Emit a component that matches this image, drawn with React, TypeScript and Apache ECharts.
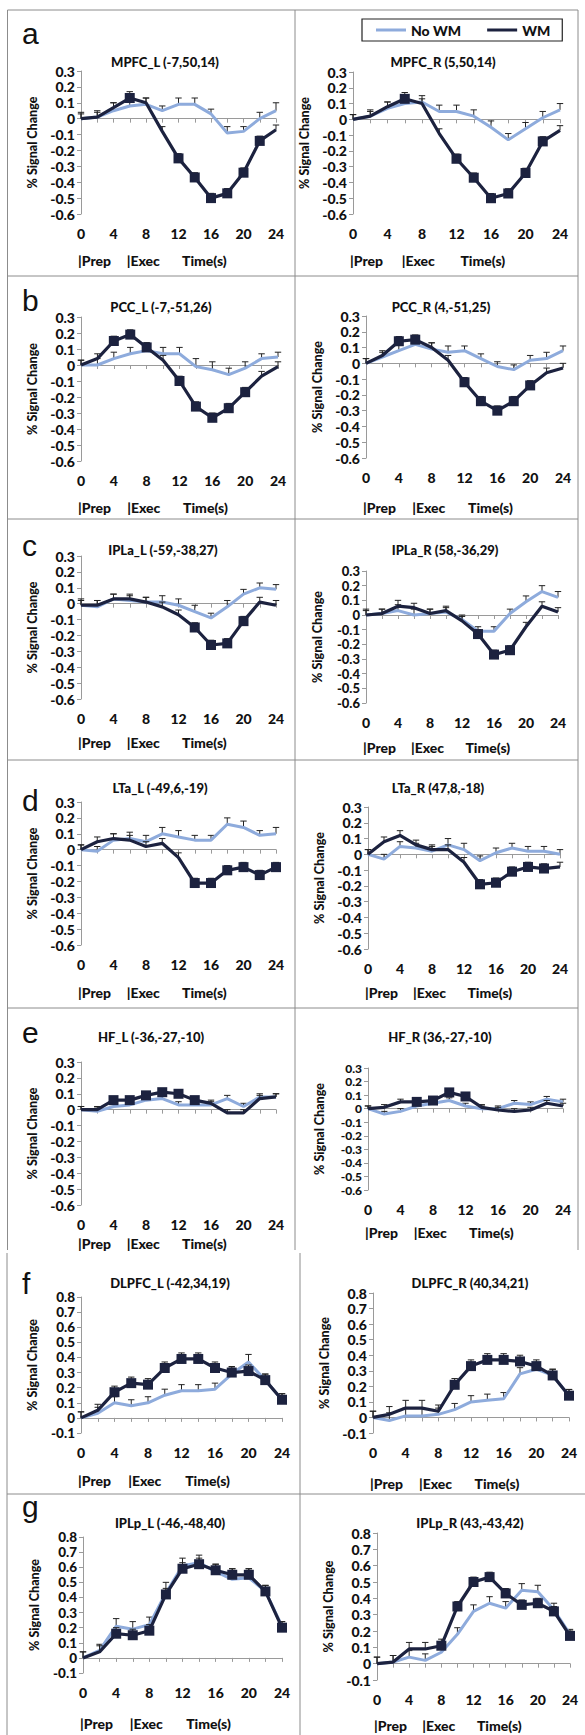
import React, { useEffect, useRef } from "react";
import * as echarts from "echarts";

// ---------- data ----------
const TIMES = [0, 2, 4, 6, 8, 10, 12, 14, 16, 18, 20, 22, 24];
const X_TICK_LABELS = [0, 4, 8, 12, 16, 20, 24];
const SERIES_NAMES = ["No WM", "WM"];
const LETTERS = ["a", "b", "c", "d", "e", "f", "g"];
const RANGE_DMN = [-0.6, 0.3];
const RANGE_TPN = [-0.1, 0.8];

// a: MPFC
const MPFC_L_NOWM = [0.0, 0.01, 0.05, 0.08, 0.09, 0.05, 0.09, 0.09, 0.03, -0.09, -0.08, 0.0, 0.05];
const MPFC_L_NOWM_ERR = [0.04, 0.04, 0.05, 0.05, 0.04, 0.03, 0.04, 0.04, 0.03, 0.04, 0.03, 0.04, 0.05];
const MPFC_L_WM = [0.0, 0.01, 0.07, 0.13, 0.1, -0.08, -0.25, -0.37, -0.5, -0.47, -0.34, -0.14, -0.07];
const MPFC_L_WM_ERR = [0.03, 0.03, 0.03, 0.04, 0.03, 0.03, 0.03, 0.03, 0.03, 0.03, 0.03, 0.03, 0.03];
const MPFC_L_MARKS = [6, 12, 14, 16, 18, 20, 22];

const MPFC_R_NOWM = [0.0, 0.02, 0.07, 0.1, 0.11, 0.05, 0.05, 0.02, -0.05, -0.13, -0.06, 0.01, 0.06];
const MPFC_R_NOWM_ERR = [0.03, 0.04, 0.04, 0.05, 0.04, 0.04, 0.04, 0.04, 0.04, 0.04, 0.04, 0.04, 0.04];
const MPFC_R_WM = [0.0, 0.02, 0.08, 0.13, 0.1, -0.09, -0.25, -0.37, -0.5, -0.47, -0.34, -0.14, -0.07];
const MPFC_R_WM_ERR = [0.03, 0.03, 0.03, 0.04, 0.03, 0.03, 0.03, 0.03, 0.03, 0.03, 0.03, 0.03, 0.03];
const MPFC_R_MARKS = [6, 12, 14, 16, 18, 20, 22];

// b: PCC
const PCC_L_NOWM = [0.0, 0.0, 0.04, 0.07, 0.09, 0.07, 0.07, -0.01, -0.03, -0.06, -0.02, 0.04, 0.05];
const PCC_L_NOWM_ERR = [0.03, 0.04, 0.04, 0.04, 0.04, 0.04, 0.04, 0.05, 0.05, 0.04, 0.04, 0.03, 0.03];
const PCC_L_WM = [0.0, 0.04, 0.15, 0.19, 0.11, 0.03, -0.1, -0.26, -0.33, -0.27, -0.17, -0.07, -0.01];
const PCC_L_WM_ERR = [0.03, 0.03, 0.03, 0.03, 0.03, 0.03, 0.03, 0.03, 0.03, 0.03, 0.03, 0.03, 0.03];
const PCC_L_MARKS = [4, 6, 8, 12, 14, 16, 18, 20];

const PCC_R_NOWM = [0.0, 0.04, 0.08, 0.12, 0.09, 0.07, 0.08, 0.03, -0.02, -0.04, 0.02, 0.03, 0.08];
const PCC_R_NOWM_ERR = [0.03, 0.03, 0.04, 0.04, 0.04, 0.04, 0.03, 0.03, 0.03, 0.03, 0.03, 0.04, 0.03];
const PCC_R_WM = [0.0, 0.05, 0.14, 0.15, 0.1, 0.02, -0.12, -0.24, -0.3, -0.24, -0.14, -0.06, -0.03];
const PCC_R_WM_ERR = [0.03, 0.03, 0.03, 0.03, 0.03, 0.03, 0.03, 0.03, 0.03, 0.03, 0.03, 0.03, 0.03];
const PCC_R_MARKS = [4, 6, 12, 14, 16, 18, 20];

// c: IPLa
const IPLA_L_NOWM = [-0.01, -0.02, 0.03, 0.02, 0.01, 0.01, -0.01, -0.05, -0.09, -0.02, 0.06, 0.1, 0.09];
const IPLA_L_NOWM_ERR = [0.04, 0.04, 0.03, 0.03, 0.03, 0.04, 0.04, 0.04, 0.03, 0.04, 0.03, 0.03, 0.03];
const IPLA_L_WM = [-0.01, -0.01, 0.03, 0.03, 0.01, -0.02, -0.07, -0.15, -0.26, -0.25, -0.11, 0.01, -0.01];
const IPLA_L_WM_ERR = [0.03, 0.03, 0.03, 0.03, 0.03, 0.03, 0.03, 0.03, 0.03, 0.03, 0.03, 0.03, 0.03];
const IPLA_L_MARKS = [14, 16, 18, 20];

const IPLA_R_NOWM = [0.0, 0.01, 0.03, 0.0, 0.01, 0.02, -0.03, -0.11, -0.11, 0.01, 0.09, 0.16, 0.12];
const IPLA_R_NOWM_ERR = [0.04, 0.03, 0.04, 0.04, 0.03, 0.03, 0.03, 0.03, 0.03, 0.03, 0.04, 0.04, 0.04];
const IPLA_R_WM = [0.0, 0.01, 0.06, 0.05, 0.01, 0.03, -0.04, -0.13, -0.27, -0.24, -0.08, 0.06, 0.02];
const IPLA_R_WM_ERR = [0.03, 0.03, 0.04, 0.03, 0.03, 0.03, 0.03, 0.03, 0.03, 0.03, 0.03, 0.03, 0.03];
const IPLA_R_MARKS = [14, 16, 18];

// d: LTa
const LTA_L_NOWM = [0.0, -0.01, 0.06, 0.07, 0.05, 0.1, 0.08, 0.06, 0.06, 0.16, 0.14, 0.09, 0.1];
const LTA_L_NOWM_ERR = [0.03, 0.03, 0.04, 0.04, 0.04, 0.04, 0.04, 0.03, 0.03, 0.04, 0.04, 0.03, 0.04];
const LTA_L_WM = [0.0, 0.05, 0.07, 0.06, 0.02, 0.04, -0.05, -0.21, -0.21, -0.13, -0.11, -0.16, -0.11];
const LTA_L_WM_ERR = [0.03, 0.03, 0.03, 0.03, 0.03, 0.03, 0.03, 0.03, 0.03, 0.03, 0.03, 0.03, 0.03];
const LTA_L_MARKS = [14, 16, 18, 20, 22, 24];

const LTA_R_NOWM = [0.0, -0.03, 0.05, 0.04, 0.02, 0.06, 0.03, -0.04, 0.01, 0.04, 0.02, 0.02, 0.0];
const LTA_R_NOWM_ERR = [0.03, 0.03, 0.03, 0.03, 0.03, 0.04, 0.04, 0.03, 0.03, 0.03, 0.03, 0.03, 0.03];
const LTA_R_WM = [0.0, 0.08, 0.12, 0.06, 0.03, 0.03, -0.05, -0.19, -0.18, -0.11, -0.08, -0.09, -0.08];
const LTA_R_WM_ERR = [0.03, 0.03, 0.03, 0.03, 0.03, 0.03, 0.03, 0.03, 0.03, 0.03, 0.03, 0.03, 0.03];
const LTA_R_MARKS = [14, 16, 18, 20, 22];

// e: HF
const HF_L_NOWM = [0.0, -0.01, 0.02, 0.03, 0.06, 0.07, 0.03, 0.03, 0.03, 0.07, 0.02, 0.08, 0.08];
const HF_L_NOWM_ERR = [0.02, 0.02, 0.02, 0.02, 0.02, 0.02, 0.02, 0.02, 0.02, 0.02, 0.02, 0.02, 0.02];
const HF_L_WM = [0.0, 0.0, 0.06, 0.06, 0.09, 0.11, 0.1, 0.06, 0.04, -0.02, -0.02, 0.07, 0.08];
const HF_L_WM_ERR = [0.02, 0.02, 0.02, 0.02, 0.02, 0.02, 0.02, 0.02, 0.02, 0.02, 0.02, 0.02, 0.02];
const HF_L_MARKS = [4, 6, 8, 10, 12, 14];

const HF_R_NOWM = [0.0, -0.04, -0.02, 0.02, 0.04, 0.06, 0.02, 0.0, 0.0, 0.04, 0.03, 0.07, 0.05];
const HF_R_NOWM_ERR = [0.02, 0.02, 0.02, 0.02, 0.02, 0.02, 0.02, 0.02, 0.02, 0.02, 0.02, 0.02, 0.02];
const HF_R_WM = [0.0, 0.01, 0.05, 0.05, 0.06, 0.12, 0.09, 0.01, -0.01, -0.02, -0.01, 0.04, 0.02];
const HF_R_WM_ERR = [0.02, 0.02, 0.02, 0.02, 0.02, 0.02, 0.02, 0.02, 0.02, 0.02, 0.02, 0.02, 0.02];
const HF_R_MARKS = [6, 8, 10, 12];

// f: DLPFC
const DLPFC_L_NOWM = [0.0, 0.03, 0.1, 0.08, 0.1, 0.15, 0.18, 0.18, 0.19, 0.29, 0.37, 0.25, 0.12];
const DLPFC_L_NOWM_ERR = [0.04, 0.04, 0.04, 0.04, 0.04, 0.04, 0.04, 0.04, 0.04, 0.04, 0.05, 0.04, 0.04];
const DLPFC_L_WM = [0.0, 0.05, 0.17, 0.23, 0.22, 0.33, 0.39, 0.39, 0.33, 0.3, 0.31, 0.25, 0.12];
const DLPFC_L_WM_ERR = [0.04, 0.04, 0.04, 0.04, 0.04, 0.04, 0.04, 0.04, 0.04, 0.04, 0.04, 0.04, 0.04];
const DLPFC_L_MARKS = [4, 6, 8, 10, 12, 14, 16, 18, 20, 22, 24];

const DLPFC_R_NOWM = [0.0, -0.02, 0.01, 0.01, 0.02, 0.05, 0.1, 0.11, 0.12, 0.28, 0.31, 0.27, 0.14];
const DLPFC_R_NOWM_ERR = [0.04, 0.05, 0.05, 0.05, 0.04, 0.04, 0.04, 0.04, 0.04, 0.04, 0.04, 0.04, 0.04];
const DLPFC_R_WM = [0.0, 0.02, 0.06, 0.06, 0.04, 0.21, 0.33, 0.37, 0.37, 0.36, 0.33, 0.27, 0.14];
const DLPFC_R_WM_ERR = [0.04, 0.05, 0.05, 0.05, 0.04, 0.04, 0.04, 0.04, 0.04, 0.04, 0.04, 0.04, 0.04];
const DLPFC_R_MARKS = [10, 12, 14, 16, 18, 20, 22, 24];

// g: IPLp
const IPLP_L_NOWM = [0.0, 0.05, 0.21, 0.19, 0.22, 0.43, 0.61, 0.63, 0.57, 0.52, 0.53, 0.44, 0.21];
const IPLP_L_NOWM_ERR = [0.04, 0.04, 0.05, 0.05, 0.05, 0.07, 0.05, 0.05, 0.05, 0.07, 0.06, 0.04, 0.03];
const IPLP_L_WM = [0.0, 0.04, 0.16, 0.15, 0.18, 0.42, 0.59, 0.62, 0.58, 0.55, 0.55, 0.44, 0.2];
const IPLP_L_WM_ERR = [0.04, 0.04, 0.04, 0.04, 0.04, 0.04, 0.04, 0.04, 0.04, 0.04, 0.04, 0.04, 0.04];
const IPLP_L_MARKS = [4, 6, 8, 10, 12, 14, 16, 18, 20, 22, 24];

const IPLP_R_NOWM = [0.0, 0.01, 0.04, 0.02, 0.07, 0.18, 0.32, 0.37, 0.34, 0.45, 0.44, 0.33, 0.18];
const IPLP_R_NOWM_ERR = [0.04, 0.04, 0.04, 0.04, 0.04, 0.04, 0.04, 0.04, 0.04, 0.04, 0.04, 0.04, 0.03];
const IPLP_R_WM = [0.0, 0.01, 0.09, 0.09, 0.11, 0.35, 0.5, 0.53, 0.43, 0.36, 0.37, 0.32, 0.17];
const IPLP_R_WM_ERR = [0.04, 0.04, 0.04, 0.04, 0.04, 0.03, 0.03, 0.03, 0.03, 0.03, 0.03, 0.03, 0.03];
const IPLP_R_MARKS = [8, 10, 12, 14, 16, 18, 20, 22, 24];

const PANELS = [
  { title: "MPFC_L (-7,50,14)", noWM: MPFC_L_NOWM, noWMErr: MPFC_L_NOWM_ERR, wm: MPFC_L_WM, wmErr: MPFC_L_WM_ERR, marks: MPFC_L_MARKS, range: RANGE_DMN },
  { title: "MPFC_R (5,50,14)", noWM: MPFC_R_NOWM, noWMErr: MPFC_R_NOWM_ERR, wm: MPFC_R_WM, wmErr: MPFC_R_WM_ERR, marks: MPFC_R_MARKS, range: RANGE_DMN },
  { title: "PCC_L (-7,-51,26)", noWM: PCC_L_NOWM, noWMErr: PCC_L_NOWM_ERR, wm: PCC_L_WM, wmErr: PCC_L_WM_ERR, marks: PCC_L_MARKS, range: RANGE_DMN },
  { title: "PCC_R (4,-51,25)", noWM: PCC_R_NOWM, noWMErr: PCC_R_NOWM_ERR, wm: PCC_R_WM, wmErr: PCC_R_WM_ERR, marks: PCC_R_MARKS, range: RANGE_DMN },
  { title: "IPLa_L (-59,-38,27)", noWM: IPLA_L_NOWM, noWMErr: IPLA_L_NOWM_ERR, wm: IPLA_L_WM, wmErr: IPLA_L_WM_ERR, marks: IPLA_L_MARKS, range: RANGE_DMN },
  { title: "IPLa_R (58,-36,29)", noWM: IPLA_R_NOWM, noWMErr: IPLA_R_NOWM_ERR, wm: IPLA_R_WM, wmErr: IPLA_R_WM_ERR, marks: IPLA_R_MARKS, range: RANGE_DMN },
  { title: "LTa_L (-49,6,-19)", noWM: LTA_L_NOWM, noWMErr: LTA_L_NOWM_ERR, wm: LTA_L_WM, wmErr: LTA_L_WM_ERR, marks: LTA_L_MARKS, range: RANGE_DMN },
  { title: "LTa_R (47,8,-18)", noWM: LTA_R_NOWM, noWMErr: LTA_R_NOWM_ERR, wm: LTA_R_WM, wmErr: LTA_R_WM_ERR, marks: LTA_R_MARKS, range: RANGE_DMN },
  { title: "HF_L (-36,-27,-10)", noWM: HF_L_NOWM, noWMErr: HF_L_NOWM_ERR, wm: HF_L_WM, wmErr: HF_L_WM_ERR, marks: HF_L_MARKS, range: RANGE_DMN },
  { title: "HF_R (36,-27,-10)", noWM: HF_R_NOWM, noWMErr: HF_R_NOWM_ERR, wm: HF_R_WM, wmErr: HF_R_WM_ERR, marks: HF_R_MARKS, range: RANGE_DMN },
  { title: "DLPFC_L (-42,34,19)", noWM: DLPFC_L_NOWM, noWMErr: DLPFC_L_NOWM_ERR, wm: DLPFC_L_WM, wmErr: DLPFC_L_WM_ERR, marks: DLPFC_L_MARKS, range: RANGE_TPN },
  { title: "DLPFC_R (40,34,21)", noWM: DLPFC_R_NOWM, noWMErr: DLPFC_R_NOWM_ERR, wm: DLPFC_R_WM, wmErr: DLPFC_R_WM_ERR, marks: DLPFC_R_MARKS, range: RANGE_TPN },
  { title: "IPLp_L (-46,-48,40)", noWM: IPLP_L_NOWM, noWMErr: IPLP_L_NOWM_ERR, wm: IPLP_L_WM, wmErr: IPLP_L_WM_ERR, marks: IPLP_L_MARKS, range: RANGE_TPN },
  { title: "IPLp_R (43,-43,42)", noWM: IPLP_R_NOWM, noWMErr: IPLP_R_NOWM_ERR, wm: IPLP_R_WM, wmErr: IPLP_R_WM_ERR, marks: IPLP_R_MARKS, range: RANGE_TPN },
];

// ---------- layout (pixels) ----------
const LAYOUT = [
  { left: 81, top: 71, width: 195, height: 143, tx: 165, ty: 62, py: 260, fs: 14 },
  { left: 353, top: 72, width: 207, height: 142, tx: 443, ty: 62, py: 260, fs: 14 },
  { left: 81, top: 317, width: 197, height: 144, tx: 161, ty: 307, py: 507, fs: 14 },
  { left: 366, top: 316, width: 197, height: 142, tx: 441, ty: 307, py: 507, fs: 14 },
  { left: 81, top: 556, width: 195, height: 143, tx: 163, ty: 550, py: 742, fs: 14 },
  { left: 366, top: 571, width: 192, height: 132, tx: 445, ty: 550, py: 747, fs: 13 },
  { left: 81, top: 802, width: 195, height: 143, tx: 160, ty: 788, py: 992, fs: 14 },
  { left: 368, top: 807, width: 192, height: 142, tx: 438, ty: 788, py: 992, fs: 14 },
  { left: 81, top: 1062, width: 195, height: 143, tx: 151, ty: 1037, py: 1243, fs: 14 },
  { left: 368, top: 1068, width: 195, height: 122, tx: 440, ty: 1037, py: 1232, fs: 12 },
  { left: 81, top: 1297, width: 201, height: 136, tx: 170, ty: 1283, py: 1480, fs: 13.5 },
  { left: 373, top: 1293, width: 196, height: 140, tx: 470, ty: 1283, py: 1483, fs: 14 },
  { left: 83, top: 1537, width: 199, height: 136, tx: 170, ty: 1523, py: 1723, fs: 13.5 },
  { left: 377, top: 1533, width: 193, height: 147, tx: 470, ty: 1523, py: 1725, fs: 14 },
];
const LETTER_Y = [33, 300, 545, 800, 1032, 1283, 1506];

const FONT = "Lato, 'Open Sans', sans-serif";
const DARK = "#1c223f";
const LIGHT = "#8eabdc";
const AXIS = "#9a9a9a";
const BORDER = "#8c8c8c";
const WEIGHT = 900;

function buildOption() {
  const grid: any[] = [];
  const xAxis: any[] = [];
  const yAxis: any[] = [];
  const series: any[] = [];
  const graphic: any[] = [];

  PANELS.forEach((p, i) => {
    const L = LAYOUT[i];
    grid.push({ left: L.left, top: L.top, width: L.width, height: L.height, containLabel: false });
    xAxis.push({
      type: "value",
      gridIndex: i,
      min: TIMES[0],
      max: TIMES[TIMES.length - 1],
      interval: 2,
      axisLine: { show: true, lineStyle: { color: AXIS, width: 1 } },
      axisTick: { show: true, inside: false, length: 4, lineStyle: { color: AXIS } },
      splitLine: { show: false },
      axisLabel: {
        margin: 12,
        fontFamily: FONT,
        fontWeight: WEIGHT,
        fontSize: 14,
        color: "#111",
        showMinLabel: true,
        showMaxLabel: true,
        formatter: (v: number) => (X_TICK_LABELS.includes(v) ? String(v) : ""),
      },
    });
    yAxis.push({
      type: "value",
      gridIndex: i,
      min: p.range[0],
      max: p.range[1],
      interval: 0.1,
      name: "% Signal Change",
      nameLocation: "middle",
      nameGap: 42,
      nameTextStyle: { fontFamily: FONT, fontWeight: WEIGHT, fontSize: 12.5, color: "#111" },
      axisLine: { show: true, lineStyle: { color: AXIS, width: 1 } },
      axisTick: { show: true, inside: false, length: 4, lineStyle: { color: AXIS } },
      splitLine: { show: false },
      axisLabel: {
        margin: 6,
        fontFamily: FONT,
        fontWeight: WEIGHT,
        fontSize: L.fs,
        lineHeight: L.fs,
        color: "#111",
        showMinLabel: true,
        showMaxLabel: true,
        hideOverlap: false,
        formatter: (v: number) => {
          const r = Math.round(v * 10) / 10;
          return r === 0 ? "0" : String(r);
        },
      },
    });

    const errData = (vals: number[], errs: number[]) => TIMES.map((t, k) => [t, vals[k], errs[k]]);
    const errSeries = (vals: number[], errs: number[], z: number) => ({
      type: "custom",
      name: "err",
      xAxisIndex: i,
      yAxisIndex: i,
      z,
      silent: true,
      encode: { x: 0, y: 1 },
      data: errData(vals, errs),
      renderItem: (params: any, api: any) => {
        const t = api.value(0);
        const v = api.value(1);
        const e = api.value(2);
        const p0 = api.coord([t, v]);
        const p1 = api.coord([t, v + e]);
        const cap = 3.2;
        return {
          type: "group",
          children: [
            { type: "line", shape: { x1: p0[0], y1: p0[1], x2: p1[0], y2: p1[1] }, style: { stroke: "#222", lineWidth: 1 } },
            { type: "line", shape: { x1: p1[0] - cap, y1: p1[1], x2: p1[0] + cap, y2: p1[1] }, style: { stroke: "#222", lineWidth: 1 } },
          ],
        };
      },
    });

    series.push(errSeries(p.noWM, p.noWMErr, 1));
    series.push(errSeries(p.wm, p.wmErr, 3));
    series.push({
      type: "line",
      name: SERIES_NAMES[0],
      xAxisIndex: i,
      yAxisIndex: i,
      z: 2,
      data: TIMES.map((t, k) => [t, p.noWM[k]]),
      symbol: "none",
      lineStyle: { color: LIGHT, width: 3 },
      itemStyle: { color: LIGHT },
      silent: true,
    });
    const marks = p.marks;
    series.push({
      type: "line",
      name: SERIES_NAMES[1],
      xAxisIndex: i,
      yAxisIndex: i,
      z: 4,
      data: TIMES.map((t, k) => [t, p.wm[k]]),
      symbol: "rect",
      showSymbol: true,
      showAllSymbol: true,
      symbolSize: (val: any) => (marks.includes(val[0]) ? 10 : 0),
      lineStyle: { color: DARK, width: 3.2 },
      itemStyle: { color: DARK },
      silent: true,
    });

    graphic.push({
      type: "text",
      x: L.tx,
      y: L.ty,
      style: { text: p.title, font: `${WEIGHT} 13px ${FONT}`, fill: "#111", textAlign: "center", textVerticalAlign: "middle" },
    });
    const prepItems = [
      { text: "|Prep", frac: 0 },
      { text: "|Exec", frac: 6 / 24 },
      { text: "Time(s)", frac: 12.8 / 24 },
    ];
    prepItems.forEach((it) => {
      graphic.push({
        type: "text",
        x: L.left - 3 + L.width * it.frac,
        y: L.py,
        style: { text: it.text, font: `${WEIGHT} 14px ${FONT}`, fill: "#111", textAlign: "left", textVerticalAlign: "middle" },
      });
    });
  });

  LETTERS.forEach((l, r) => {
    graphic.push({
      type: "text",
      x: 22,
      y: LETTER_Y[r],
      style: { text: l, font: `30px 'Liberation Sans', Arial, sans-serif`, fill: "#111", textAlign: "left", textVerticalAlign: "middle" },
    });
  });

  // panel borders
  const lines: number[][] = [
    [7.5, 10, 578, 10],
    [7.5, 10, 7.5, 1250],
    [578, 10, 578, 1250],
    [295, 10, 295, 1250],
    [7.5, 276, 578, 276],
    [7.5, 519, 578, 519],
    [7.5, 760, 578, 760],
    [7.5, 1008, 578, 1008],
    [7, 1253, 7, 1735],
    [300, 1253, 300, 1735],
    [7, 1494, 585, 1494],
  ];
  lines.forEach((s) => {
    graphic.push({
      type: "line",
      shape: { x1: s[0], y1: s[1], x2: s[2], y2: s[3] },
      style: { stroke: BORDER, lineWidth: 1 },
      silent: true,
    });
  });

  return {
    animation: false,
    backgroundColor: "#ffffff",
    grid,
    xAxis,
    yAxis,
    series,
    graphic,
    legend: {
      data: SERIES_NAMES,
      left: 362,
      top: 19,
      orient: "horizontal",
      icon: "rect",
      itemWidth: 30,
      itemHeight: 3,
      itemGap: 26,
      borderColor: "#222",
      borderWidth: 1.2,
      padding: [4, 12, 4, 14],
      selectedMode: false,
      textStyle: { fontFamily: FONT, fontWeight: WEIGHT, fontSize: 14, color: "#111" },
    },
  };
}

export default function App() {
  const ref = useRef<HTMLDivElement>(null);
  useEffect(() => {
    if (!ref.current) return;
    const chart = echarts.init(ref.current, undefined, { renderer: "svg" });
    chart.setOption(buildOption() as any);
    return () => chart.dispose();
  }, []);
  return (
    <div
      ref={ref}
      style={{ position: "absolute", left: 0, top: 0, width: 585, height: 1735, background: "#fff" }}
    />
  );
}
